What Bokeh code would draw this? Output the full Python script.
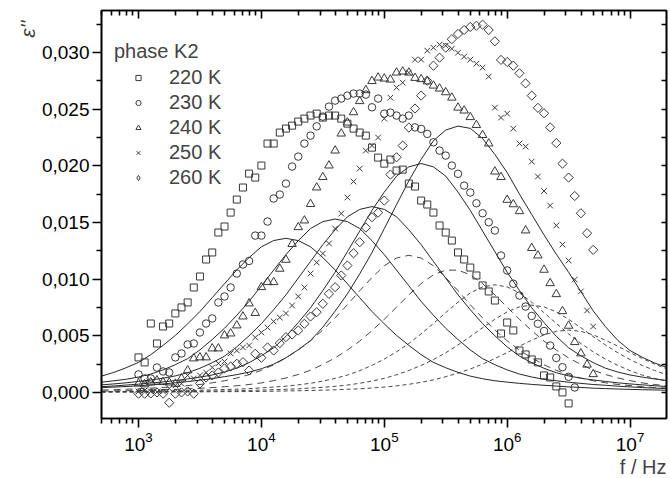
import numpy as np
from math import pi
from bokeh.plotting import figure
from bokeh.models import (LinearAxis, LogAxis, FixedTicker, CustomJSTickFormatter,
                          LogTickFormatter, Range1d, Legend, LegendItem, Title)
from bokeh.embed import file_html
from bokeh.resources import INLINE

# ---------------- data ----------------
# measurement frequencies (Hz), 20 points per decade
FREQ = [1000, 1122, 1259, 1413, 1585, 1778, 1995, 2239, 2512, 2818,
        3162, 3548, 3981, 4467, 5012, 5623, 6310, 7079, 7943, 8913,
        10000, 11220, 12589, 14125, 15849, 17783, 19953, 22387, 25119, 28184,
        31623, 35481, 39811, 44668, 50119, 56234, 63096, 70795, 79433, 89125,
        100000, 112202, 125893, 141254, 158489, 177828, 199526, 223872, 251189, 281838,
        316228, 354813, 398107, 446684, 501187, 562341, 630957, 707946, 794328, 891251,
        1000000, 1122018, 1258925, 1412538, 1584893, 1778279, 1995262, 2238721, 2511886, 2818383,
        3162278, 3548134, 3981072, 4466836, 5011872]

EPS_220K = [0.00309, 0.00265, 0.00608, 0.00432, 0.00582, 0.00608, 0.00697, 0.00750, 0.00794, 0.00926,
            0.01023, 0.01173, 0.01235, 0.01411, 0.01464, 0.01587, 0.01702, 0.01808, 0.01931, 0.01896,
            0.02002, 0.02196, 0.02196, 0.02293, 0.02328, 0.02354, 0.02390, 0.02416, 0.02443, 0.02460,
            0.02425, 0.02443, 0.02443, 0.02416, 0.02372, 0.02328, 0.02293, 0.02266, 0.02160, 0.02072,
            0.02019, 0.02055, 0.01958, 0.01966, 0.01843, 0.01817, 0.01693, 0.01658, 0.01587, 0.01473,
            0.01411, 0.01340, 0.01235, 0.01173, 0.01102, 0.01032, 0.00944, 0.00891, 0.00811, 0.00520,
            0.00617, 0.00547, 0.00370, 0.00335, 0.00291, 0.00265, 0.00150, 0.00132, 0.00053, 0.00000,
            -0.00097, None, None, None, None]

EPS_230K = [0.00159, 0.00123, 0.00123, 0.00220, 0.00185, 0.00176, 0.00309, 0.00344, 0.00423, 0.00432,
            0.00529, 0.00608, 0.00653, 0.00794, 0.00847, 0.00926, 0.01049, 0.01129, 0.01160, 0.01384,
            0.01384, 0.01508, 0.01711, 0.01746, 0.01843, 0.01993, 0.02081, 0.02196, 0.02266, 0.02348,
            0.02434, 0.02522, 0.02575, 0.02593, 0.02619, 0.02637, 0.02637, 0.02628, 0.02516, 0.02593,
            0.02460, 0.02469, 0.02443, 0.02416, 0.02443, 0.02339, 0.02325, 0.02281, 0.02207, 0.02134,
            0.02090, 0.02002, 0.01929, 0.01825, 0.01764, 0.01669, 0.01581, 0.01502, 0.01429, 0.01208,
            0.01076, 0.00959, 0.00855, 0.00758, 0.00675, 0.00606, 0.00542, 0.00414, 0.00304, 0.00223,
            0.00138, 0.00044, None, None, None]

EPS_240K = [0.00079, 0.00071, 0.00088, 0.00106, 0.00091, 0.00088, 0.00077, 0.00123, 0.00194, 0.00300,
            0.00309, 0.00309, 0.00388, 0.00388, 0.00503, 0.00520, 0.00591, 0.00670, 0.00785, 0.00701,
            0.00929, 0.00973, 0.00973, 0.01091, 0.01170, 0.01309, 0.01458, 0.01517, 0.01662, 0.01808,
            0.01900, 0.02002, 0.02134, 0.02284, 0.02381, 0.02472, 0.02570, 0.02667, 0.02747, 0.02778,
            0.02769, 0.02760, 0.02822, 0.02831, 0.02822, 0.02775, 0.02764, 0.02744, 0.02707, 0.02681,
            0.02648, 0.02601, 0.02513, 0.02487, 0.02429, 0.02359, 0.02271, 0.02196, 0.01949, 0.01900,
            0.01699, 0.01660, 0.01599, 0.01429, 0.01274, 0.01208, 0.01082, 0.00964, 0.00867, 0.00717,
            0.00588, 0.00444, 0.00344, 0.00245, 0.00161]

EPS_250K = [0.00009, 0.00018, 0.00009, 0.00003, 0.00009, 0.00035, 0.00062, 0.00077, 0.00150, 0.00123,
            0.00150, 0.00176, 0.00220, 0.00256, 0.00273, 0.00344, 0.00370, 0.00397, 0.00414, 0.00485,
            0.00529, 0.00573, 0.00626, 0.00661, 0.00697, 0.00767, 0.00847, 0.00926, 0.01049, 0.01146,
            0.01226, 0.01314, 0.01446, 0.01578, 0.01720, 0.01861, 0.01975, 0.02134, 0.02178, 0.02249,
            0.02416, 0.02601, 0.02690, 0.02734, 0.02822, 0.02936, 0.02936, 0.03016, 0.03042, 0.03069,
            0.03060, 0.03033, 0.02998, 0.02963, 0.02936, 0.02901, 0.02866, 0.02787, 0.02513, 0.02425,
            0.02460, 0.02328, 0.02196, 0.02169, 0.02037, 0.01905, 0.01777, 0.01649, 0.01473, 0.01305,
            0.01164, 0.00996, 0.00891, 0.00723, 0.00582]

EPS_260K = [-0.00011, -0.00011, -0.00009, 0.00000, -0.00011, -0.00091, -0.00011, 0.00000, 0.00009, -0.00011,
            0.00079, 0.00132, 0.00150, 0.00176, 0.00212, 0.00229, 0.00253, 0.00267, 0.00194, 0.00341,
            0.00306, 0.00397, 0.00370, 0.00435, 0.00488, 0.00511, 0.00547, 0.00606, 0.00670, 0.00708,
            0.00782, 0.00870, 0.00929, 0.01032, 0.01120, 0.01228, 0.01325, 0.01455, 0.01546, 0.01587,
            0.01693, 0.01922, 0.02075, 0.02178, 0.02337, 0.02505, 0.02619, 0.02751, 0.02883, 0.02954,
            0.03042, 0.03117, 0.03163, 0.03198, 0.03225, 0.03236, 0.03245, 0.03198, 0.03098, 0.02934,
            0.02916, 0.02883, 0.02816, 0.02727, 0.02619, 0.02511, 0.02463, 0.02339, 0.02200, 0.02019,
            0.01896, 0.01733, 0.01581, 0.01405, 0.01258]

# frequencies (Hz) at which the fitted curves were read, 10 per decade
CURVE_FREQ = [501.2, 631.0, 794.3, 1000, 1258.9, 1584.9, 1995.3, 2511.9, 3162.3, 3981.1,
              5011.9, 6309.6, 7943.3, 10000, 12589, 15849, 19953, 25119, 31623, 39811,
              50119, 63096, 79433, 100000, 125893, 158489, 199526, 251189, 316228, 398107,
              501187, 630957, 794328, 1000000, 1258925, 1584893, 1995262, 2511886, 3162278, 3981072,
              5011872, 6309573, 7943282, 10000000, 12589254, 15848932, 19952623]

SOLID_1 = [.00144, .00177, .00218, .00265, .00333, .00415, .00503, .00605, .00714, .00836,
           .00959, .01081, .01190, .01285, .01340, .01360, .01340, .01285, .01190, .01081,
           .00959, .00836, .00714, .00605, .00503, .00415, .00333, .00265, .00218, .00177,
           .00144, .00121, .00103, .00091, .00080, .00071, .00063, .00056, .00049, .00044,
           .00038, .00034, .00030, .00027, .00024, .00022, .00019]
SOLID_2 = [.00090, .00103, .00116, .00136, .00162, .00199, .00245, .00298, .00375, .00467,
           .00566, .00681, .00803, .00941, .01079, .01216, .01339, .01446, .01507, .01530,
           .01507, .01446, .01339, .01216, .01079, .00941, .00803, .00681, .00566, .00467,
           .00375, .00298, .00245, .00199, .00162, .00136, .00116, .00103, .00090, .00080,
           .00070, .00063, .00055, .00049, .00043, .00038, .00034]
SOLID_3 = [.00067, .00075, .00085, .00097, .00110, .00125, .00146, .00174, .00213, .00262,
           .00320, .00402, .00500, .00607, .00730, .00861, .01009, .01156, .01304, .01435,
           .01550, .01615, .01640, .01615, .01550, .01435, .01304, .01156, .01009, .00861,
           .00730, .00607, .00500, .00402, .00320, .00262, .00213, .00174, .00146, .00125,
           .00110, .00097, .00085, .00075, .00067, .00059, .00052]
SOLID_4 = [.00051, .00057, .00065, .00073, .00083, .00093, .00105, .00119, .00135, .00154,
           .00180, .00214, .00263, .00323, .00394, .00495, .00616, .00747, .00899, .01061,
           .01242, .01424, .01606, .01768, .01909, .01990, .02020, .01990, .01909, .01768,
           .01606, .01424, .01242, .01061, .00899, .00747, .00616, .00495, .00394, .00323,
           .00263, .00214, .00180, .00154, .00135, .00119, .00105]
SOLID_5 = [.00042, .00047, .00052, .00059, .00066, .00075, .00085, .00096, .00108, .00122,
           .00139, .00157, .00179, .00209, .00249, .00306, .00376, .00458, .00576, .00717,
           .00870, .01046, .01234, .01445, .01657, .01868, .02056, .02221, .02315, .02350,
           .02330, .02240, .02100, .01940, .01750, .01570, .01390, .01220, .01060, .00890,
           .00720, .00580, .00460, .00370, .00310, .00260, .00220]

DASHED_1 = [.00021, .00024, .00028, .00033, .00038, .00044, .00051, .00061, .00070, .00085,
            .00103, .00127, .00157, .00195, .00244, .00305, .00374, .00456, .00551, .00658,
            .00774, .00897, .01014, .01118, .01186, .01210, .01186, .01118, .01014, .00897,
            .00774, .00658, .00551, .00456, .00374, .00305, .00244, .00195, .00157, .00127,
            .00103, .00085, .00070, .00061, .00051, .00044, .00038]
DASHED_2 = [.00012, .00014, .00015, .00017, .00020, .00023, .00027, .00032, .00036, .00043,
            .00050, .00059, .00070, .00084, .00104, .00128, .00158, .00196, .00247, .00305,
            .00374, .00453, .00545, .00645, .00752, .00861, .00960, .01038, .01079, .01079,
            .01038, .00960, .00861, .00752, .00645, .00545, .00453, .00374, .00305, .00247,
            .00196, .00158, .00128, .00104, .00084, .00070, .00059]
DASHED_3 = [.00007, .00008, .00009, .00010, .00011, .00012, .00014, .00016, .00019, .00022,
            .00026, .00029, .00034, .00040, .00048, .00055, .00067, .00081, .00100, .00124,
            .00153, .00192, .00239, .00294, .00358, .00432, .00517, .00608, .00704, .00796,
            .00878, .00931, .00950, .00931, .00878, .00796, .00704, .00608, .00517, .00432,
            .00358, .00294, .00239, .00192, .00153, .00124, .00100]
DASHED_4 = [.00004, .00005, .00005, .00005, .00006, .00007, .00008, .00009, .00010, .00012,
            .00013, .00015, .00018, .00021, .00024, .00028, .00032, .00039, .00045, .00054,
            .00065, .00081, .00100, .00124, .00156, .00194, .00238, .00290, .00350, .00419,
            .00493, .00571, .00645, .00711, .00755, .00770, .00755, .00711, .00645, .00571,
            .00493, .00419, .00350, .00290, .00238, .00194, .00156]
DASHED_5 = [.00002, .00003, .00003, .00003, .00003, .00004, .00004, .00004, .00005, .00006,
            .00007, .00007, .00008, .00009, .00011, .00013, .00015, .00017, .00020, .00023,
            .00028, .00032, .00039, .00047, .00058, .00072, .00089, .00111, .00139, .00170,
            .00207, .00250, .00299, .00352, .00408, .00461, .00508, .00539, .00550, .00539,
            .00508, .00461, .00408, .00352, .00299, .00250, .00207]

SERIES_LABELS = ["220 K", "230 K", "240 K", "250 K", "260 K"]
LEGEND_TITLE = "phase K2"
Y_TICKS = [0.000, 0.005, 0.010, 0.015, 0.020, 0.025, 0.030]
X_TICKS = [1e3, 1e4, 1e5, 1e6, 1e7]

# ---------------- figure ----------------
FONT = "Liberation Sans"
p = figure(width=670, height=478, x_axis_type="log",
           x_range=Range1d(500, 1.98e7), y_range=Range1d(-0.0023, 0.0337),
           output_backend="svg", toolbar_location=None,
           min_border_left=101, min_border_right=4, min_border_top=10, min_border_bottom=60)
p.background_fill_color = "white"
p.border_fill_color = "white"
p.grid.visible = False
p.outline_line_color = "black"
p.outline_line_width = 1.6

x_minor = [m * 10.0 ** e for e in range(2, 8) for m in range(2, 10)]
y_minor = [t + 0.0025 for t in Y_TICKS]

xt = FixedTicker(ticks=X_TICKS, minor_ticks=x_minor)
yt = FixedTicker(ticks=Y_TICKS, minor_ticks=y_minor)

xa = p.xaxis[0]
xa.ticker = xt
xa.formatter = LogTickFormatter()
ya = p.yaxis[0]
ya.ticker = yt
ya.formatter = CustomJSTickFormatter(code="return tick.toFixed(3).replace('.', ',');")
for ax in (xa, ya):
    ax.axis_line_width = 1.6
    ax.major_tick_line_width = 1.6
    ax.minor_tick_line_width = 1.6
    ax.major_tick_out = 9
    ax.major_tick_in = 0
    ax.minor_tick_out = 5
    ax.minor_tick_in = 0
    ax.major_label_text_font = FONT
    ax.major_label_text_font_size = "19px"
    ax.major_label_text_color = "black"
xa.major_label_standoff = 4
ya.major_label_standoff = 3

empty = CustomJSTickFormatter(code="return '';")
top = LogAxis(ticker=xt, formatter=empty, major_tick_in=8, major_tick_out=0,
              minor_tick_in=5, minor_tick_out=0, axis_line_width=1.6,
              major_tick_line_width=1.6, minor_tick_line_width=1.6,
              major_label_standoff=0, major_label_text_font_size="1px")
right = LinearAxis(ticker=yt, formatter=empty, major_tick_in=5, major_tick_out=0,
                   minor_tick_in=5, minor_tick_out=0, axis_line_width=1.6,
                   major_tick_line_width=1.6, minor_tick_line_width=1.6,
                   major_label_standoff=0, major_label_text_font_size="1px")
p.add_layout(top, "above")
p.add_layout(right, "right")

# fitted curves
for ys in (SOLID_1, SOLID_2, SOLID_3, SOLID_4, SOLID_5):
    p.line(CURVE_FREQ, ys, line_color="#1a1a1a", line_width=0.95)
for ys, dash in ((DASHED_1, "7 5"), (DASHED_2, "7 5"), (DASHED_3, "4 3"),
                 (DASHED_4, "4 3"), (DASHED_5, "4 3")):
    p.line(CURVE_FREQ, ys, line_color="#333333", line_width=0.9, line_dash=dash)

# data points
freq = np.array(FREQ, dtype=float)
MK = dict(line_color="#383838", line_width=1.0, fill_color=None)
r1 = p.scatter(freq, np.array(EPS_220K, dtype=float), marker="square", size=7, **MK)
r2 = p.scatter(freq, np.array(EPS_230K, dtype=float), marker="circle", size=7.5, **MK)
r3 = p.scatter(freq, np.array(EPS_240K, dtype=float), marker="triangle", size=8.5, **MK)
r4 = p.scatter(freq, np.array(EPS_250K, dtype=float), marker="x", size=8, **MK)
r5 = p.scatter(freq, np.array(EPS_260K, dtype=float), marker="square", angle=pi / 4, size=6.5, **MK)
# legend key for the 260 K series (diamond outline, size 0 so nothing is drawn in the plot)
r5_key = p.scatter(freq, np.array(EPS_260K, dtype=float), marker="diamond", size=0, **MK)

items = [LegendItem(label=lab, renderers=[r])
         for lab, r in zip(SERIES_LABELS, (r1, r2, r3, r4, r5_key))]
legend = Legend(items=items, title=LEGEND_TITLE, location=(13, 229),
                padding=0, margin=0, spacing=2, label_height=23, glyph_height=13,
                glyph_width=48, label_standoff=7, title_standoff=3,
                label_text_font=FONT, label_text_font_size="20px",
                title_text_font=FONT, title_text_font_size="20px", title_text_font_style="normal",
                border_line_alpha=0, background_fill_alpha=0)
p.add_layout(legend)

# axis titles
p.add_layout(Title(text="ε''", align="right", text_font=FONT, text_font_style="italic",
                   text_font_size="21px", offset=10, standoff=0), "left")
p.add_layout(Title(text="f / Hz", align="right", text_font=FONT, text_font_style="normal",
                   text_font_size="20px", standoff=0), "below")

open("out.html", "w").write(file_html(p, INLINE))
